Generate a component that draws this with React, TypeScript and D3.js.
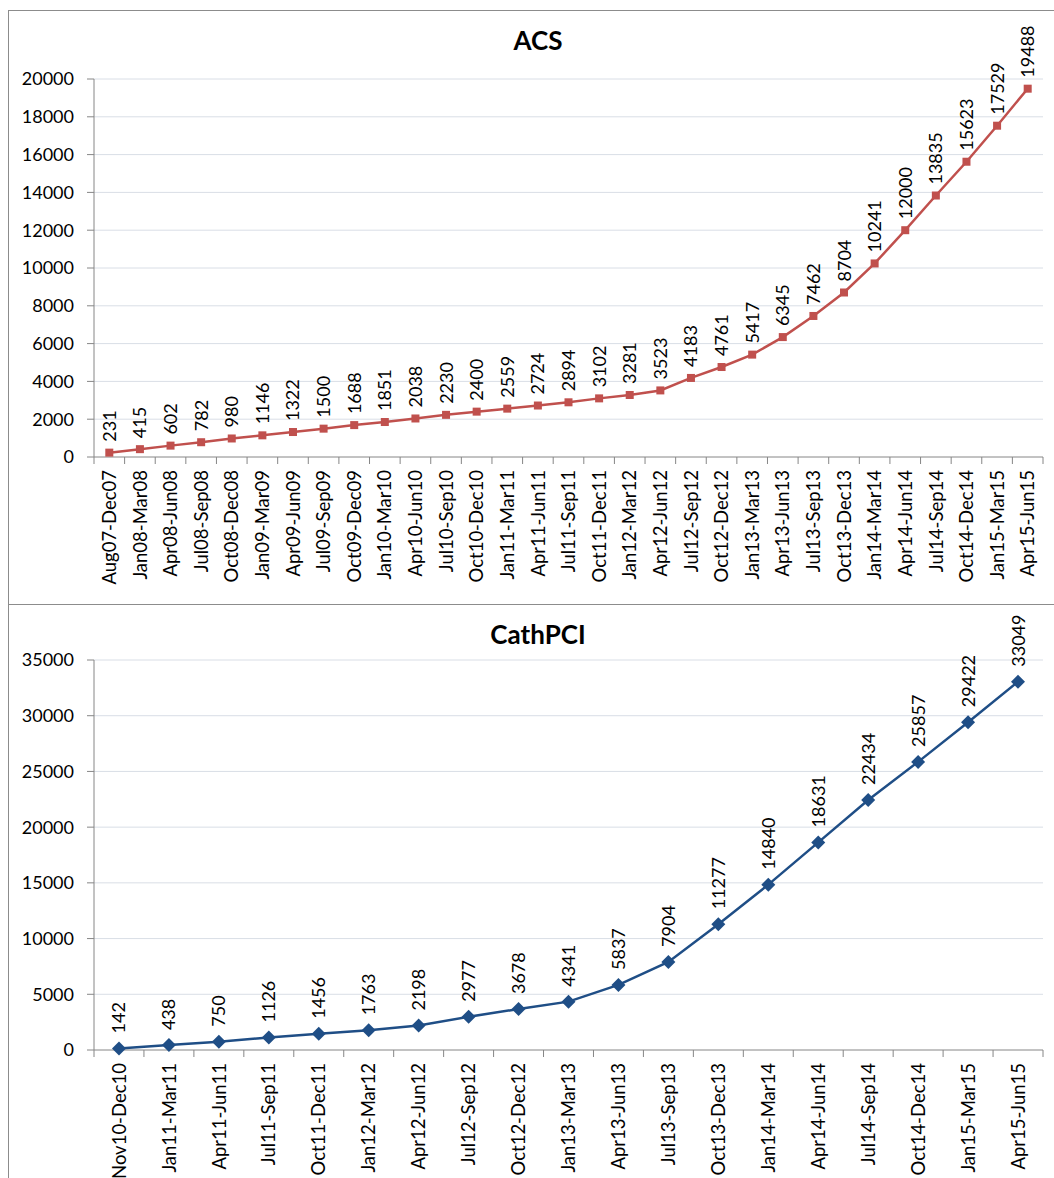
import React from "react";
import * as d3 from "d3";

const acsCategories = [
  "Aug07-Dec07", "Jan08-Mar08", "Apr08-Jun08", "Jul08-Sep08", "Oct08-Dec08",
  "Jan09-Mar09", "Apr09-Jun09", "Jul09-Sep09", "Oct09-Dec09", "Jan10-Mar10",
  "Apr10-Jun10", "Jul10-Sep10", "Oct10-Dec10", "Jan11-Mar11", "Apr11-Jun11",
  "Jul11-Sep11", "Oct11-Dec11", "Jan12-Mar12", "Apr12-Jun12", "Jul12-Sep12",
  "Oct12-Dec12", "Jan13-Mar13", "Apr13-Jun13", "Jul13-Sep13", "Oct13-Dec13",
  "Jan14-Mar14", "Apr14-Jun14", "Jul14-Sep14", "Oct14-Dec14", "Jan15-Mar15",
  "Apr15-Jun15",
];
const acsValues = [
  231, 415, 602, 782, 980, 1146, 1322, 1500, 1688, 1851, 2038, 2230, 2400, 2559,
  2724, 2894, 3102, 3281, 3523, 4183, 4761, 5417, 6345, 7462, 8704, 10241, 12000,
  13835, 15623, 17529, 19488,
];
const acsTicks = [0, 2000, 4000, 6000, 8000, 10000, 12000, 14000, 16000, 18000, 20000];

const pciCategories = [
  "Nov10-Dec10", "Jan11-Mar11", "Apr11-Jun11", "Jul11-Sep11", "Oct11-Dec11",
  "Jan12-Mar12", "Apr12-Jun12", "Jul12-Sep12", "Oct12-Dec12", "Jan13-Mar13",
  "Apr13-Jun13", "Jul13-Sep13", "Oct13-Dec13", "Jan14-Mar14", "Apr14-Jun14",
  "Jul14-Sep14", "Oct14-Dec14", "Jan15-Mar15", "Apr15-Jun15",
];
const pciValues = [
  142, 438, 750, 1126, 1456, 1763, 2198, 2977, 3678, 4341, 5837, 7904, 11277,
  14840, 18631, 22434, 25857, 29422, 33049,
];
const pciTicks = [0, 5000, 10000, 15000, 20000, 25000, 30000, 35000];

const FONT = "Lato, 'Open Sans', sans-serif";

type PanelProps = {
  title: string;
  categories: string[];
  values: number[];
  ticks: number[];
  yMax: number;
  top: number;
  plotTop: number;
  plotBottom: number;
  color: string;
  marker: "square" | "diamond";
  labelOffset: number;
};

function Panel(p: PanelProps) {
  const left = 94;
  const right = 1043;
  const x = d3.scaleBand<string>().domain(p.categories).range([left, right]);
  const y = d3.scaleLinear().domain([0, p.yMax]).range([p.plotBottom, p.plotTop]);
  const line = d3
    .line<number>()
    .x((_, i) => x(p.categories[i])! + x.bandwidth() / 2)
    .y((d) => y(d));
  const bounds = p.categories.map((c) => x(c)!).concat([right]);
  return (
    <g>
      <text
        x={538}
        y={p.top + 40}
        textAnchor="middle"
        fontFamily={FONT}
        fontWeight="bold"
        fontSize={26}
        fill="#000"
      >
        {p.title}
      </text>
      {p.ticks.map((t) => (
        <g key={t}>
          {t > 0 && (
            <line x1={left} x2={right} y1={y(t)} y2={y(t)} stroke="#D9DEE6" strokeWidth={1} />
          )}
          <line x1={left - 7} x2={left} y1={y(t)} y2={y(t)} stroke="#868686" strokeWidth={1} />
          <text
            x={left - 20}
            y={y(t)}
            dy="0.36em"
            textAnchor="end"
            fontFamily={FONT}
            fontSize={18}
            fill="#000"
          >
            {t}
          </text>
        </g>
      ))}
      <line x1={left} x2={left} y1={p.plotTop} y2={p.plotBottom} stroke="#868686" strokeWidth={1} />
      <line x1={left} x2={right} y1={p.plotBottom} y2={p.plotBottom} stroke="#868686" strokeWidth={1} />
      {bounds.map((b, i) => (
        <line key={i} x1={b} x2={b} y1={p.plotBottom} y2={p.plotBottom + 7} stroke="#868686" strokeWidth={1} />
      ))}
      {p.categories.map((c) => {
        const cx = x(c)! + x.bandwidth() / 2;
        const cy = p.plotBottom + 13;
        return (
          <text
            key={c}
            transform={`translate(${cx},${cy}) rotate(-90)`}
            dy="0.36em"
            textAnchor="end"
            fontFamily={FONT}
            fontSize={18.5}
            fill="#000"
          >
            {c}
          </text>
        );
      })}
      <path d={line(p.values) || ""} fill="none" stroke={p.color} strokeWidth={2.5} />
      {p.values.map((v, i) => {
        const cx = x(p.categories[i])! + x.bandwidth() / 2;
        const cy = y(v);
        return (
          <g key={i}>
            {p.marker === "square" ? (
              <rect x={cx - 4} y={cy - 4} width={8} height={8} fill={p.color} />
            ) : (
              <path
                d={`M${cx},${cy - 7}L${cx + 7},${cy}L${cx},${cy + 7}L${cx - 7},${cy}Z`}
                fill={p.color}
              />
            )}
            <text
              transform={`translate(${cx},${cy - p.labelOffset}) rotate(-90)`}
              dy="0.36em"
              textAnchor="start"
              fontFamily={FONT}
              fontSize={18}
              fill="#000"
            >
              {v}
            </text>
          </g>
        );
      })}
    </g>
  );
}

export default function App() {
  return (
    <div style={{ position: "absolute", left: 0, top: 0 }}>
      <svg width={1054} height={1178} style={{ display: "block", background: "#fff" }}>
        <rect x={8.5} y={10.5} width={1060} height={594} fill="#fff" stroke="#8C8C8C" strokeWidth={1} />
        <rect x={8.5} y={604.5} width={1060} height={600} fill="#fff" stroke="#8C8C8C" strokeWidth={1} />
        <Panel
          title="ACS"
          categories={acsCategories}
          values={acsValues}
          ticks={acsTicks}
          yMax={20000}
          top={10}
          plotTop={79}
          plotBottom={457}
          color="#C0504D"
          marker="square"
          labelOffset={11}
        />
        <Panel
          title="CathPCI"
          categories={pciCategories}
          values={pciValues}
          ticks={pciTicks}
          yMax={35000}
          top={604}
          plotTop={660}
          plotBottom={1050}
          color="#1F4E86"
          marker="diamond"
          labelOffset={15}
        />
      </svg>
    </div>
  );
}
